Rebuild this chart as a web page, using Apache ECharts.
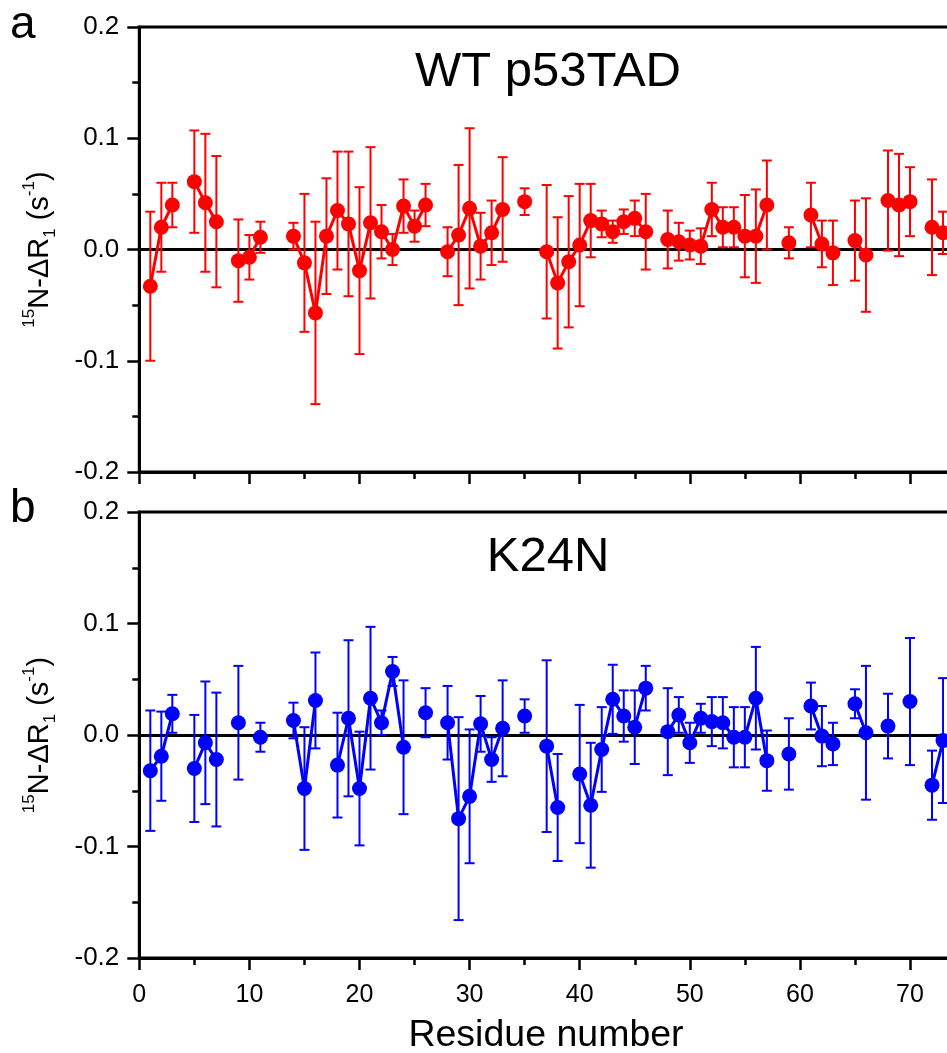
<!DOCTYPE html>
<html>
<head>
<meta charset="utf-8">
<script src="https://cdn.jsdelivr.net/npm/echarts@6/dist/echarts.min.js"></script>
<style>
html,body{margin:0;padding:0;background:#fff;overflow:hidden;}
#chart{width:947px;height:1053px;}
</style>
</head>
<body>
<div id="chart"></div>
<script>
// Residue numbers
const residues = [1,2,3,4,5,6,7,8,9,10,11,12,13,14,15,16,17,18,19,20,21,22,23,24,25,26,27,28,29,30,31,32,33,34,35,36,37,38,39,40,41,42,43,44,45,46,47,48,49,50,51,52,53,54,55,56,57,58,59,60,61,62,63,64,65,66,67,68,69,70,71,72,73];

// Panel a: WT p53TAD (null = not measured)
const wtValues = [-0.033,0.020,0.040,null,0.061,0.042,0.025,null,-0.010,-0.007,0.011,null,null,0.012,-0.012,-0.057,0.012,0.035,0.023,-0.019,0.024,0.016,0.000,0.039,0.021,0.040,null,-0.002,0.013,0.037,0.003,0.015,0.036,null,0.043,null,-0.002,-0.030,-0.011,0.004,0.026,0.023,0.016,0.025,0.028,0.016,null,0.009,0.007,0.004,0.003,0.036,0.020,0.020,0.012,0.012,0.040,null,0.006,null,0.031,0.005,-0.003,null,0.008,-0.005,null,0.044,0.040,0.043,null,0.020,0.015];
const wtErrors = [0.067,0.040,0.020,null,0.046,0.062,0.059,null,0.037,0.020,0.014,null,null,0.012,0.062,0.082,0.052,0.053,0.065,0.075,0.068,0.024,0.014,0.024,0.014,0.019,null,0.022,0.063,0.072,0.030,0.029,0.047,null,0.012,null,0.060,0.059,0.059,0.055,0.033,0.012,0.010,0.011,0.016,0.034,null,0.026,0.017,0.013,0.016,0.024,0.018,0.018,0.037,0.042,0.040,null,0.014,null,0.029,0.021,0.029,null,0.036,0.051,null,0.045,0.046,0.031,null,0.043,0.019];

// Panel b: K24N
const k24nValues = [-0.032,-0.019,0.019,null,-0.030,-0.007,-0.022,null,0.011,null,-0.002,null,null,0.013,-0.048,0.031,null,-0.027,0.015,-0.048,0.033,0.011,0.057,-0.011,null,0.020,null,0.011,-0.075,-0.055,0.010,-0.022,0.006,null,0.017,null,-0.010,-0.065,null,-0.035,-0.063,-0.013,0.032,0.017,0.007,0.042,null,0.003,0.018,-0.007,0.015,0.012,0.011,-0.002,-0.002,0.033,-0.023,null,-0.017,null,0.026,-0.001,-0.008,null,0.028,0.002,null,0.008,null,0.030,null,-0.045,-0.005];
const k24nErrors = [0.054,0.040,0.017,null,0.048,0.055,0.060,null,0.051,null,0.013,null,null,0.016,0.055,0.043,null,0.047,0.070,0.051,0.064,0.011,0.013,0.060,null,0.022,null,0.033,0.091,0.060,0.025,0.020,0.043,null,0.015,null,0.077,0.048,null,0.062,0.056,0.038,0.031,0.023,0.033,0.020,null,0.039,0.016,0.018,0.013,0.022,0.023,0.027,0.027,0.046,0.027,null,0.032,null,0.021,0.027,0.019,null,0.013,0.060,null,0.029,null,0.057,null,0.031,0.056];

const yTickLabels = ['-0.2','-0.1','0.0','0.1','0.2'];
const xTitle = 'Residue number';
const panelTitles = ['WT p53TAD', 'K24N'];
const panelLetters = ['a', 'b'];

const FONT = "'Liberation Sans', Arial, Helvetica, sans-serif";

function lineData(vals){ return residues.map((r,i)=>[r, vals[i]]); }
function errData(vals, errs){
  const out=[];
  residues.forEach((r,i)=>{ if(vals[i]!==null && errs[i]!==null) out.push([r, vals[i]-errs[i], vals[i]+errs[i]]); });
  return out;
}
function errRender(color){
  return function(params, api){
    const x = api.value(0);
    const lo = api.coord([x, api.value(1)]);
    const hi = api.coord([x, api.value(2)]);
    const cw = 5;
    const st = {stroke: color, lineWidth: 2};
    return {type:'group', children:[
      {type:'line', shape:{x1:lo[0],y1:lo[1],x2:hi[0],y2:hi[1]}, style:st},
      {type:'line', shape:{x1:lo[0]-cw,y1:lo[1],x2:lo[0]+cw,y2:lo[1]}, style:st},
      {type:'line', shape:{x1:hi[0]-cw,y1:hi[1],x2:hi[0]+cw,y2:hi[1]}, style:st}
    ]};
  };
}

// x scale ~11.01 px per residue; axis runs beyond the right edge of the picture
const grids = [
  {left:139.3, width:880.8, top:27, height:445, show:true, borderColor:'#000', borderWidth:3, containLabel:false, outerBoundsMode:'none'},
  {left:139.3, width:880.8, top:512, height:446, show:true, borderColor:'#000', borderWidth:3, containLabel:false, outerBoundsMode:'none'}
];

function makeX(idx, showLabels){
  return {
    gridIndex: idx, type:'value', min:0, max:80, interval:10,
    axisLine:{show:true, onZero:false, lineStyle:{color:'#000', width:3}},
    axisTick:{show:true, inside:false, length:12, lineStyle:{color:'#000', width:2.5}},
    minorTick:{show:true, splitNumber:2, length:7, lineStyle:{color:'#000', width:2.5}},
    splitLine:{show:false}, minorSplitLine:{show:false},
    axisLabel:{show:showLabels, color:'#000', fontSize:25, fontFamily:FONT, margin:25, showMaxLabel:false}
  };
}
function makeY(idx){
  return {
    gridIndex: idx, type:'value', min:-0.2, max:0.2, interval:0.1,
    axisLine:{show:true, onZero:false, lineStyle:{color:'#000', width:3}},
    axisTick:{show:true, inside:false, length:12, lineStyle:{color:'#000', width:2.5}},
    minorTick:{show:true, splitNumber:2, length:7, lineStyle:{color:'#000', width:2.5}},
    splitLine:{show:false}, minorSplitLine:{show:false},
    axisLabel:{color:'#000', fontSize:26, fontFamily:FONT, margin:20,
      formatter: v => yTickLabels[Math.round((v+0.2)/0.1)]},
    name:'{sup|15}{n|N-ΔR}{sub|1}{n| (s}{sup|-1}{n|)}',
    nameLocation:'middle', nameRotate:90, nameGap:80,
    nameTextStyle:{color:'#000', fontFamily:FONT, rich:{
      n:{fontSize:29, fontFamily:FONT, color:'#000', lineHeight:38, verticalAlign:'middle'},
      sup:{fontSize:17, fontFamily:FONT, color:'#000', lineHeight:17, verticalAlign:'top'},
      sub:{fontSize:17, fontFamily:FONT, color:'#000', lineHeight:17, verticalAlign:'bottom'}
    }}
  };
}

function panelSeries(idx, vals, errs, color){
  return [
    {type:'custom', xAxisIndex:idx, yAxisIndex:idx, data:errData(vals, errs), renderItem:errRender(color), z:2, silent:true},
    {type:'line', xAxisIndex:idx, yAxisIndex:idx, data:lineData(vals), connectNulls:false,
     symbol:'circle', symbolSize:15, showSymbol:true, itemStyle:{color:color}, lineStyle:{color:color, width:3}, z:3,
     markLine:{silent:true, symbol:['none','none'], label:{show:false}, lineStyle:{color:'#000', width:3, type:'solid'}, data:[{yAxis:0}], z:1}}
  ];
}

const chart = echarts.init(document.getElementById('chart'), null, {renderer:'canvas'});
chart.setOption({
  animation:false,
  backgroundColor:'#fff',
  grid: grids,
  xAxis:[makeX(0,false), makeX(1,true)],
  yAxis:[makeY(0), makeY(1)],
  series:[].concat(panelSeries(0, wtValues, wtErrors, '#ff0000'), panelSeries(1, k24nValues, k24nErrors, '#0000ff')),
  graphic:[
    {type:'text', left:10, top:2, style:{text:panelLetters[0], fontSize:46, fontFamily:FONT, fill:'#000'}},
    {type:'text', left:10, top:486, style:{text:panelLetters[1], fontSize:46, fontFamily:FONT, fill:'#000'}},
    {type:'text', x:548, y:72, style:{text:panelTitles[0], fontSize:49, fontFamily:FONT, fill:'#000', textAlign:'center', textVerticalAlign:'middle'}},
    {type:'text', x:548, y:557, style:{text:panelTitles[1], fontSize:49, fontFamily:FONT, fill:'#000', textAlign:'center', textVerticalAlign:'middle'}},
    {type:'text', x:546, y:1036, style:{text:xTitle, fontSize:37.5, fontFamily:FONT, fill:'#000', textAlign:'center', textVerticalAlign:'middle'}}
  ]
});
</script>
</body>
</html>
